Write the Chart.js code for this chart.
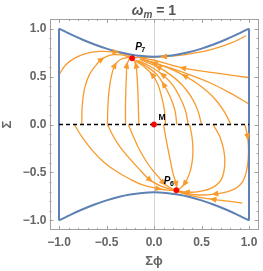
<!DOCTYPE html>
<html>
<head>
<meta charset="utf-8">
<script src="https://cdn.jsdelivr.net/npm/chart.js@4.4.1/dist/chart.umd.min.js"></script>
<style>
html, body { margin: 0; padding: 0; background: #fff; }
#chart { display: block; }
</style>
</head>
<body>
<canvas id="chart" width="263" height="271"></canvas>
<script>
// axis ticks
const tickValues = [-1, -0.5, 0, 0.5, 1];

// blue boundary of the allowed region
const boundaryX = [-1, -0.875, -0.75, -0.625, -0.5, -0.375, -0.25, -0.125, 0, 0.125, 0.25, 0.375, 0.5, 0.625, 0.75, 0.875, 1];
const boundaryTop = [1, 0.939, 0.884, 0.834, 0.791, 0.755, 0.729, 0.713, 0.707, 0.713, 0.729, 0.755, 0.791, 0.834, 0.884, 0.939, 1];
const boundaryBottom = [-1, -0.939, -0.884, -0.834, -0.791, -0.755, -0.729, -0.713, -0.707, -0.713, -0.729, -0.755, -0.791, -0.834, -0.884, -0.939, -1];

// critical points
const pointNames = ['P7', 'M', 'P6'];
const pointX = [-0.23, 0, 0.235];
const pointY = [0.69, 0, -0.685];

// streamlines ending at P7
const streamsUpper = [
    [[-1, 0.52], [-0.93, 0.62], [-0.84, 0.69], [-0.72, 0.74], [-0.58, 0.762], [-0.4, 0.755], [-0.3, 0.73], [-0.24, 0.705]],
    [[-0.76, 0], [-0.755, 0.2], [-0.73, 0.38], [-0.68, 0.52], [-0.61, 0.62], [-0.55, 0.68], [-0.45, 0.725], [-0.34, 0.725], [-0.25, 0.7]],
    [[-0.49, 0], [-0.485, 0.2], [-0.47, 0.38], [-0.445, 0.52], [-0.41, 0.62], [-0.35, 0.68], [-0.26, 0.7]],
    [[-0.3, 0], [-0.3, 0.2], [-0.295, 0.4], [-0.29, 0.52], [-0.285, 0.62], [-0.26, 0.685]],
    [[-0.16, 0], [-0.165, 0.2], [-0.172, 0.4], [-0.18, 0.52], [-0.19, 0.62], [-0.215, 0.68]],
    [[0.12, 0], [0.11, 0.15], [0.08, 0.29], [0.04, 0.42], [-0.02, 0.52], [-0.1, 0.6], [-0.2, 0.665]],
    [[0.24, 0], [0.22, 0.15], [0.17, 0.29], [0.1, 0.42], [0.03, 0.52], [-0.07, 0.6], [-0.19, 0.67]],
    [[0.36, 0], [0.33, 0.15], [0.27, 0.29], [0.19, 0.42], [0.09, 0.52], [-0.03, 0.6], [-0.17, 0.67]],
    [[0.5, 0], [0.46, 0.15], [0.39, 0.29], [0.29, 0.42], [0.17, 0.52], [0.04, 0.6], [-0.13, 0.67]],
    [[0.81, 0], [0.73, 0.15], [0.62, 0.29], [0.48, 0.41], [0.32, 0.51], [0.15, 0.59], [0, 0.645], [-0.12, 0.68]],
    [[0.99, 0.22], [0.8, 0.33], [0.6, 0.43], [0.4, 0.51], [0.2, 0.58], [0, 0.64], [-0.15, 0.68]],
    [[0.99, 0.49], [0.7, 0.53], [0.45, 0.565], [0.3, 0.59], [0.15, 0.63], [0, 0.67], [-0.15, 0.695]],
    [[0.97, 0.925], [0.8, 0.845], [0.6, 0.78], [0.4, 0.74], [0.22, 0.715], [0.1, 0.708], [-0.05, 0.702], [-0.2, 0.697]]
];
const arrowsUpper = [[5], [5], [4], [4], [4], [4], [3], [4], [5], [4], [5], [3], [5]];

// streamlines ending at P6
const streamsLower = [
    [[-0.84, 0], [-0.75, -0.14], [-0.65, -0.27], [-0.53, -0.39], [-0.41, -0.48], [-0.27, -0.56], [-0.12, -0.63], [0.05, -0.67], [0.2, -0.69]],
    [[-0.49, 0], [-0.43, -0.12], [-0.36, -0.23], [-0.27, -0.34], [-0.17, -0.45], [-0.04, -0.58], [0.08, -0.645], [0.21, -0.685]],
    [[-0.27, 0], [-0.22, -0.12], [-0.16, -0.25], [-0.09, -0.37], [-0.02, -0.47], [0.05, -0.55], [0.1, -0.61], [0.16, -0.655], [0.22, -0.683]],
    [[0.1, 0], [0.125, -0.14], [0.15, -0.27], [0.175, -0.39], [0.2, -0.51], [0.235, -0.625], [0.235, -0.68]],
    [[0.375, 0], [0.4, -0.13], [0.41, -0.27], [0.4, -0.4], [0.37, -0.52], [0.32, -0.62], [0.26, -0.68]],
    [[0.62, 0], [0.69, -0.12], [0.735, -0.27], [0.745, -0.42], [0.71, -0.57], [0.62, -0.655], [0.47, -0.7], [0.34, -0.705], [0.25, -0.692]],
    [[0.96, -0.01], [0.985, -0.13], [0.995, -0.28], [0.98, -0.45], [0.93, -0.6], [0.82, -0.685], [0.64, -0.725], [0.48, -0.735], [0.35, -0.72], [0.26, -0.698]],
    [[0.93, -0.82], [0.78, -0.8], [0.62, -0.78], [0.48, -0.76], [0.36, -0.735], [0.26, -0.705]]
];
const arrowsLower = [[7], [5], [6], [5], [5], [7], [1, 6], [2]];

const streamColor = '#f89a2c';
const boundaryColor = '#5e81b5';
const textGray = '#666666';
const frameGray = '#a0a0a0';
const fontFamily = '"Liberation Sans", Arial, sans-serif';

const toPoints = arr => arr.map(p => ({ x: p[0], y: p[1] }));
const fmtTick = v => (v < 0 ? '\u2212' : '') + Math.abs(v).toFixed(1);

const datasets = [];

datasets.push({
    label: 'critical points',
    data: pointX.map((x, i) => ({ x: x, y: pointY[i] })),
    showLine: false,
    pointRadius: 2.7,
    pointBackgroundColor: '#ff0000',
    pointBorderColor: '#e00000',
    pointBorderWidth: 0.5,
    order: 0
});

datasets.push({
    label: 'sigma zero',
    data: [{ x: -1, y: 0 }, { x: 1, y: 0 }],
    showLine: true,
    borderColor: '#000000',
    borderWidth: 1.5,
    borderDash: [4, 3],
    pointRadius: 0,
    order: 1
});

datasets.push({
    label: 'boundary top',
    data: boundaryX.map((x, i) => ({ x: x, y: boundaryTop[i] })),
    showLine: true, borderColor: boundaryColor, borderWidth: 2, pointRadius: 0, tension: 0.3, order: 2
});
datasets.push({
    label: 'boundary bottom',
    data: boundaryX.map((x, i) => ({ x: x, y: boundaryBottom[i] })),
    showLine: true, borderColor: boundaryColor, borderWidth: 2, pointRadius: 0, tension: 0.3, order: 2
});
datasets.push({
    label: 'boundary left',
    data: [{ x: -1, y: boundaryBottom[0] }, { x: -1, y: boundaryTop[0] }],
    showLine: true, borderColor: boundaryColor, borderWidth: 2, pointRadius: 0, order: 2
});
datasets.push({
    label: 'boundary right',
    data: [{ x: 1, y: boundaryBottom[boundaryX.length - 1] }, { x: 1, y: boundaryTop[boundaryX.length - 1] }],
    showLine: true, borderColor: boundaryColor, borderWidth: 2, pointRadius: 0, order: 2
});

streamsUpper.concat(streamsLower).forEach((line, k) => {
    datasets.push({
        label: 'stream ' + k,
        data: toPoints(line),
        showLine: true,
        borderColor: streamColor,
        borderWidth: 1.3,
        pointRadius: 0,
        tension: 0.4,
        order: 3
    });
});

// light axis line through x = 0, drawn under the data
const axisLinePlugin = {
    id: 'axisLine',
    beforeDatasetsDraw(chart) {
        const { ctx, chartArea, scales: { x } } = chart;
        const px = Math.round(x.getPixelForValue(0)) + 0.5;
        ctx.save();
        ctx.strokeStyle = '#d4d4d4';
        ctx.lineWidth = 1;
        ctx.beginPath();
        ctx.moveTo(px, chartArea.top);
        ctx.lineTo(px, chartArea.bottom);
        ctx.stroke();
        ctx.restore();
    }
};

// arrowheads along the streamlines
const arrowPlugin = {
    id: 'arrows',
    afterDatasetsDraw(chart) {
        const { ctx, scales: { x, y } } = chart;
        const lines = streamsUpper.concat(streamsLower);
        const marks = arrowsUpper.concat(arrowsLower);
        ctx.save();
        ctx.fillStyle = streamColor;
        lines.forEach((line, k) => {
            marks[k].forEach(i => {
                const a = line[Math.max(i - 1, 0)];
                const b = line[Math.min(i + 1, line.length - 1)];
                const px = x.getPixelForValue(line[i][0]);
                const py = y.getPixelForValue(line[i][1]);
                const ang = Math.atan2(y.getPixelForValue(b[1]) - y.getPixelForValue(a[1]),
                    x.getPixelForValue(b[0]) - x.getPixelForValue(a[0]));
                ctx.save();
                ctx.translate(px, py);
                ctx.rotate(ang);
                ctx.beginPath();
                ctx.moveTo(3.5, 0);
                ctx.lineTo(-3.5, -3);
                ctx.lineTo(-3.5, 3);
                ctx.closePath();
                ctx.fill();
                ctx.restore();
            });
        });
        ctx.restore();
    }
};

// frame with major and minor ticks on every side, point labels, title
const framePlugin = {
    id: 'frame',
    afterDraw(chart) {
        const { ctx, chartArea: a, scales: { x, y } } = chart;
        ctx.save();
        ctx.strokeStyle = frameGray;
        ctx.lineWidth = 1;
        ctx.strokeRect(Math.round(a.left) + 0.5, Math.round(a.top) + 0.5,
            Math.round(a.right - a.left) - 1, Math.round(a.bottom - a.top) - 1);
        ctx.beginPath();
        for (let i = -10; i <= 10; i++) {
            const v = i / 10;
            const len = i % 5 === 0 ? 4 : 2;
            const px = Math.round(x.getPixelForValue(v)) + 0.5;
            const py = Math.round(y.getPixelForValue(v)) + 0.5;
            ctx.moveTo(px, a.bottom); ctx.lineTo(px, a.bottom - len);
            ctx.moveTo(px, a.top); ctx.lineTo(px, a.top + len);
            ctx.moveTo(a.left, py); ctx.lineTo(a.left + len, py);
            ctx.moveTo(a.right, py); ctx.lineTo(a.right - len, py);
        }
        ctx.stroke();

        // point labels
        ctx.fillStyle = '#000000';
        ctx.textBaseline = 'alphabetic';
        const offsets = [[3, -8], [4.5, -4.5], [-12.5, -6.5]];
        pointNames.forEach((name, i) => {
            const px = x.getPixelForValue(pointX[i]) + offsets[i][0];
            const py = y.getPixelForValue(pointY[i]) + offsets[i][1];
            const main = name.charAt(0);
            const sub = name.slice(1);
            if (sub) {
                ctx.font = 'italic bold 10px ' + fontFamily;
                ctx.fillText(main, px, py);
                const w = ctx.measureText(main).width;
                ctx.font = 'bold 7px ' + fontFamily;
                ctx.fillText(sub, px + w - 0.5, py + 2);
            } else {
                ctx.font = 'bold 8.5px ' + fontFamily;
                ctx.fillText(main, px, py);
            }
        });

        // title: omega_m = 1
        ctx.fillStyle = '#555555';
        const cx = (a.left + a.right) / 2;
        const base = 15;
        const f1 = 'italic bold 14px ' + fontFamily;
        const f2 = 'italic bold 10px ' + fontFamily;
        const f3 = 'bold 14px ' + fontFamily;
        ctx.font = f1; const w1 = ctx.measureText('\u03c9').width;
        ctx.font = f2; const w2 = ctx.measureText('m').width;
        ctx.font = f3; const w3 = ctx.measureText(' = 1').width;
        let sx = cx - (w1 + w2 + w3) / 2;
        ctx.font = f1; ctx.fillText('\u03c9', sx, base); sx += w1;
        ctx.font = f2; ctx.fillText('m', sx, base + 3); sx += w2;
        ctx.font = f3; ctx.fillText(' = 1', sx, base);
        ctx.restore();
    }
};

const tickFont = { family: fontFamily, size: 12, weight: 'bold' };
const titleFont = { family: fontFamily, size: 13, weight: 'bold' };

new Chart(document.getElementById('chart'), {
    type: 'scatter',
    data: { datasets: datasets },
    options: {
        responsive: false,
        animation: false,
        devicePixelRatio: 1,
        layout: { padding: { top: 19, right: 1.7, left: 0, bottom: 0 } },
        plugins: { legend: { display: false }, tooltip: { enabled: false } },
        scales: {
            x: {
                type: 'linear',
                min: -1.1,
                max: 1.1,
                grid: { display: false, drawTicks: false },
                border: { display: false },
                afterBuildTicks: s => { s.ticks = tickValues.map(v => ({ value: v })); },
                ticks: { padding: 5, font: tickFont, color: textGray, callback: v => fmtTick(v), maxRotation: 0 },
                title: { display: true, text: '\u03a3\u03d5', font: titleFont, color: textGray, padding: { top: 0, bottom: 1.5 } },
                afterFit: s => { s.height = 41; }
            },
            y: {
                type: 'linear',
                min: -1.1,
                max: 1.1,
                grid: { display: false, drawTicks: false },
                border: { display: false },
                afterBuildTicks: s => { s.ticks = tickValues.map(v => ({ value: v })); },
                ticks: { padding: 3, font: tickFont, color: textGray, callback: v => fmtTick(v) },
                title: { display: true, text: '\u03a3', font: titleFont, color: textGray, padding: 0 },
                afterFit: s => { s.width = 49.5; }
            }
        }
    },
    plugins: [axisLinePlugin, arrowPlugin, framePlugin]
});
</script>
</body>
</html>
